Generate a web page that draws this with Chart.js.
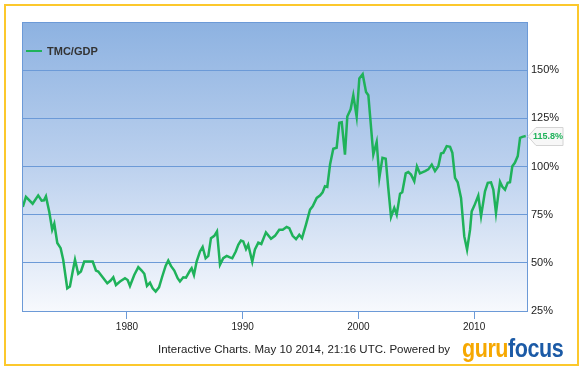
<!DOCTYPE html>
<html>
<head>
<meta charset="utf-8">
<script src="https://cdn.jsdelivr.net/npm/chart.js@4"></script>
<style>
  html, body { margin: 0; padding: 0; background: #fff; }
  #wrap { position: relative; width: 583px; height: 372px; font-family: Arial, "Liberation Sans", sans-serif; }
  #frame { position: absolute; left: 4px; top: 4px; width: 571px; height: 358px; border: 2px solid #fcc82c; }
  #legend { position: absolute; left: 26px; top: 45px; font-size: 11px; font-weight: bold; color: #333; }
  #legend span { display: inline-block; width: 16px; height: 2px; background: #1fb25a; vertical-align: middle; margin-right: 5px; position: relative; top: -1px; }
  #foot { position: absolute; left: 158px; top: 343px; font-size: 11.5px; color: #222; }
  #logo { position: absolute; left: 462px; top: 334px; font-family: Arial, "Liberation Sans", sans-serif; font-weight: bold; font-size: 25px; letter-spacing: -0.5px; transform: scaleX(0.86); transform-origin: left top; white-space: nowrap; }
  #logo .g { color: #f6a800; }
  #logo .f { color: #1b5aa6; }
  canvas { position: absolute; left: 0; top: 0; }
</style>
</head>
<body>
<div id="wrap">
  <canvas id="chart" width="583" height="372"></canvas>
  <div id="frame"></div>
  <div id="legend"><span></span>TMC/GDP</div>
  <div id="foot">Interactive Charts. May 10 2014, 21:16 UTC. Powered by</div>
  <div id="logo"><span class="g">guru</span><span class="f">focus</span></div>
</div>
<script>
// total market cap / GDP
var years = [
  1971.0, 1971.27, 1971.85, 1972.33, 1972.63, 1972.83, 1973.0, 1973.28, 1973.54, 1973.72,
  1973.98, 1974.27, 1974.49, 1974.84, 1975.07, 1975.31, 1975.51, 1975.79, 1976.02, 1976.31,
  1976.66, 1977.04, 1977.32, 1977.52, 1977.9, 1978.3, 1978.59, 1978.82, 1979.05, 1979.4,
  1979.83, 1980.06, 1980.26, 1980.63, 1980.98, 1981.27, 1981.5, 1981.73, 1981.99, 1982.22,
  1982.48, 1982.77, 1983.05, 1983.34, 1983.57, 1983.8, 1984.09, 1984.38, 1984.58, 1984.87,
  1985.1, 1985.45, 1985.59, 1985.79, 1986.02, 1986.31, 1986.54, 1986.8, 1987.03, 1987.26,
  1987.55, 1987.78, 1988.04, 1988.32, 1988.62, 1988.9, 1989.1, 1989.4, 1989.62, 1989.85,
  1990.05, 1990.29, 1990.48, 1990.83, 1991.06, 1991.35, 1991.61, 1992.01, 1992.45, 1992.79,
  1993.16, 1993.46, 1993.8, 1994.03, 1994.32, 1994.61, 1994.89, 1995.13, 1995.47, 1995.82,
  1996.05, 1996.4, 1996.68, 1996.91, 1997.11, 1997.31, 1997.55, 1997.83, 1998.12, 1998.35,
  1998.56, 1998.84, 1999.04, 1999.33, 1999.56, 1999.85, 2000.08, 2000.37, 2000.66, 2000.86,
  2001.29, 2001.58, 2001.81, 2002.08, 2002.36, 2002.58, 2002.82, 2003.1, 2003.31, 2003.6,
  2003.79, 2004.09, 2004.31, 2004.55, 2004.83, 2005.06, 2005.32, 2005.76, 2006.04, 2006.34,
  2006.62, 2006.91, 2007.14, 2007.34, 2007.63, 2007.92, 2008.12, 2008.35, 2008.58, 2008.87,
  2009.15, 2009.39, 2009.65, 2009.79, 2010.02, 2010.36, 2010.6, 2010.94, 2011.18, 2011.46,
  2011.66, 2011.89, 2012.09, 2012.24, 2012.44, 2012.67, 2012.9, 2013.1, 2013.3, 2013.52,
  2013.77, 2013.97, 2014.17, 2014.46
];
var ratio = [
  79, 84.2, 80.7, 85, 82.3, 82.4, 84.5, 76.7, 67.2, 70.3,
  60.3, 57.6, 51.6, 36.8, 37.7, 45.5, 51.6, 44.3, 45.5, 50.7,
  50.7, 50.7, 46, 45.5, 42.5, 39.4, 40.8, 42.5, 38.5, 40.3,
  42, 41.1, 38, 43.7, 47.8, 46, 44.3, 38, 39.7, 36.8,
  35.1, 37.3, 42.9, 48.4, 51.2, 48.4, 46, 42, 40.3, 42.5,
  42.3, 46, 47.2, 43.7, 50.7, 55.9, 58.2, 52.4, 53.6, 62.8,
  64, 66.3, 49, 52.4, 53.6, 52.8, 52.4, 55.9, 59.4, 61.6,
  61.1, 57.1, 59.4, 50.5, 57, 60.5, 59.8, 65.8, 62.5, 64,
  67.2, 67.2, 68.6, 68, 64, 62.3, 64.6, 62.8, 69.8, 77.6,
  79.3, 83.7, 84.9, 86.6, 89.7, 89.4, 101, 109.2, 109.7, 122.7,
  123, 106.2, 125.9, 129.7, 137, 125.9, 145.7, 147.9, 138.7, 137,
  106.2, 112.7, 94.1, 104.5, 104, 88.9, 73.8, 78.5, 75, 85.9,
  86.6, 96.4, 97.1, 95.8, 92.3, 100.1, 96.4, 97.6, 98.5, 101,
  97.6, 100.1, 106.8, 107.1, 110.6, 110.2, 107.1, 94.1, 91.8, 83.7,
  63.7, 56.8, 67.2, 76.7, 79.7, 84.9, 74.2, 87.1, 91.5, 91.8,
  88, 75.9, 85.4, 92, 89.5, 88, 91.5, 91.8, 100.1, 101.9,
  105.4, 114.9, 115.4, 115.8
];
var yearTicks = [1980, 1990, 2000, 2010];
var pctTicks = [25, 50, 75, 100, 125, 150, 175];
var lastLabel = "115.8%";

var gridBlue = '#6c9ad7';
var lineGreen = '#1fb25a';

var points = years.map(function (y, i) { return {x: y, y: ratio[i]}; });

var plotBack = {
  id: 'plotBack',
  beforeDraw: function (chart) {
    var a = chart.chartArea, ctx = chart.ctx;
    var g = ctx.createLinearGradient(0, a.top, 0, a.bottom);
    g.addColorStop(0, '#8db2e1');
    g.addColorStop(0.5, '#bcd1ee');
    g.addColorStop(1, '#f7f9fd');
    ctx.save();
    ctx.fillStyle = g;
    ctx.fillRect(a.left, a.top, a.right - a.left, a.bottom - a.top);
    ctx.restore();
  },
  afterDraw: function (chart) {
    var a = chart.chartArea, ctx = chart.ctx;
    ctx.save();
    ctx.strokeStyle = gridBlue;
    ctx.lineWidth = 1;
    ctx.strokeRect(a.left + 0.5, a.top + 0.5, a.right - a.left, a.bottom - a.top);
    // last value callout
    var yy = Math.round(chart.scales.y.getPixelForValue(ratio[ratio.length - 1])) + 0.5;
    var x0 = a.right + 1;
    ctx.beginPath();
    ctx.moveTo(x0, yy);
    ctx.lineTo(x0 + 8, yy - 9);
    ctx.lineTo(x0 + 35, yy - 9);
    ctx.lineTo(x0 + 35, yy + 9);
    ctx.lineTo(x0 + 8, yy + 9);
    ctx.closePath();
    ctx.fillStyle = '#f7f7f7';
    ctx.fill();
    ctx.strokeStyle = '#d4d4d4';
    ctx.stroke();
    ctx.fillStyle = lineGreen;
    ctx.font = 'bold 9px Arial';
    ctx.textBaseline = 'middle';
    ctx.fillText(lastLabel, x0 + 5, yy);
    ctx.restore();
  }
};

new Chart(document.getElementById('chart'), {
  type: 'line',
  data: {
    datasets: [{
      label: 'TMC/GDP',
      data: points,
      borderColor: lineGreen,
      borderWidth: 2.5,
      pointRadius: 0,
      tension: 0,
      fill: false
    }]
  },
  options: {
    responsive: false,
    animation: false,
    layout: { padding: { left: 22, top: 22, right: 0, bottom: 0 } },
    plugins: { legend: { display: false }, tooltip: { enabled: false } },
    scales: {
      x: {
        type: 'linear',
        min: 1970.93,
        max: 2014.57,
        afterBuildTicks: function (s) { s.ticks = yearTicks.map(function (v) { return {value: v}; }); },
        afterFit: function (s) { s.height = 61; },
        grid: { drawOnChartArea: false, drawTicks: true, tickLength: 8, color: gridBlue },
        border: { color: gridBlue },
        ticks: {
          color: '#222',
          font: { family: 'Arial', size: 10 },
          padding: 2,
          maxRotation: 0,
          callback: function (v) { return String(v); }
        }
      },
      y: {
        position: 'right',
        min: 25,
        max: 175,
        afterBuildTicks: function (s) { s.ticks = pctTicks.map(function (v) { return {value: v}; }); },
        afterFit: function (s) { s.width = 56; },
        grid: { color: gridBlue, drawTicks: false },
        border: { color: gridBlue },
        ticks: {
          color: '#222',
          font: { family: 'Arial', size: 11 },
          padding: 4,
          callback: function (v) { return v === 175 ? '' : v + '%'; }
        }
      }
    }
  },
  plugins: [plotBack]
});
</script>
</body>
</html>
